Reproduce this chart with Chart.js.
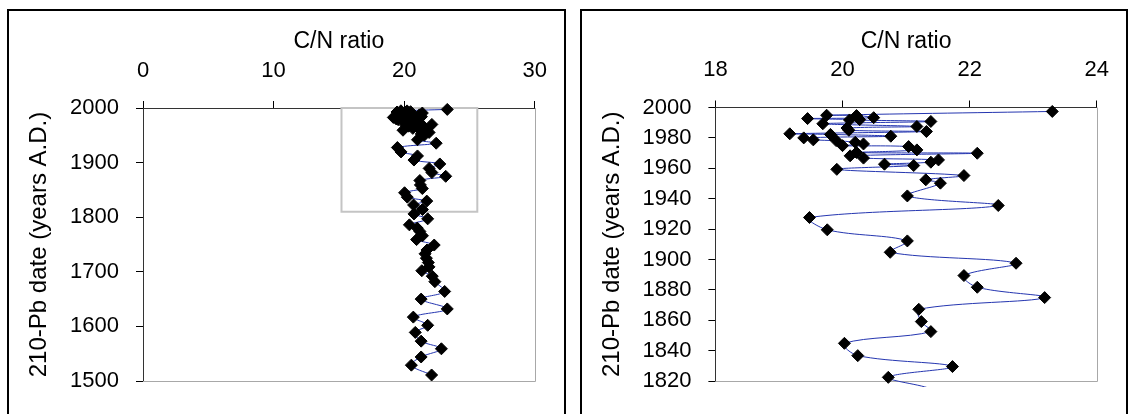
<!DOCTYPE html>
<html>
<head>
<meta charset="utf-8">
<script src="https://cdn.jsdelivr.net/npm/chart.js@4"></script>
<style>
  html, body { margin: 0; padding: 0; background: #fff; }
  body { width: 1133px; height: 414px; position: relative; overflow: hidden; }
  .panel { position: absolute; top: 9px; height: 403px; border: 2px solid #000; border-bottom: none; }
  #leftPanel { left: 7px; width: 555px; }
  #rightPanel { left: 580px; width: 544px; }
  .panel canvas { display: block; }
</style>
</head>
<body>
<div class="panel" id="leftPanel"><canvas id="fullCore"></canvas></div>
<div class="panel" id="rightPanel"><canvas id="topCore"></canvas></div>
<script>
// 210-Pb dates (years A.D.) and C/N ratio, top of core first
const dates = [1997.4, 1994.9, 1994.7, 1993.3, 1992.7, 1992.0, 1991.8, 1990.8, 1989.3, 1987.5,
  1986.5, 1985.0, 1984.2, 1982.7, 1982.3, 1981.1, 1980.0, 1978.7, 1978.2, 1977.1,
  1976.0, 1974.9, 1974.3, 1972.1, 1970.4, 1969.9, 1968.2, 1966.7, 1965.5, 1964.0,
  1962.7, 1961.8, 1959.3, 1955.2, 1952.4, 1950.2, 1941.8, 1935.5, 1927.6, 1919.5,
  1912.2, 1904.7, 1897.5, 1889.4, 1881.7, 1874.9, 1867.2, 1859.1, 1852.5, 1844.8,
  1836.7, 1829.5, 1822.4, 1814, 1806, 1797, 1786, 1780, 1774, 1766,
  1759, 1749, 1740, 1733, 1725, 1717, 1709, 1702, 1692, 1682,
  1664, 1650, 1632, 1617, 1602, 1589, 1573, 1559, 1544, 1529, 1511];
const cnRatio = [23.30, 19.75, 20.22, 20.49, 19.45, 20.27, 20.11, 21.39, 19.69, 21.17,
  20.07, 20.10, 21.32, 19.17, 19.81, 20.76, 19.39, 19.54, 19.90, 20.20,
  20.33, 20.00, 21.04, 21.17, 20.22, 22.12, 20.12, 20.33, 21.51, 21.39,
  20.66, 21.12, 19.91, 21.91, 21.31, 21.54, 21.02, 22.45, 19.48, 19.76,
  21.02, 20.75, 22.73, 21.91, 22.12, 23.18, 21.20, 21.24, 21.39, 20.03,
  20.24, 21.73, 20.72, 21.40, 20.75, 21.80, 20.40, 21.00, 21.20, 21.40,
  20.95, 22.30, 21.75, 21.60, 21.70, 21.85, 21.90, 21.35, 22.15, 22.35,
  23.10, 21.30, 23.30, 20.70, 21.80, 20.85, 21.30, 22.85, 21.30, 20.55, 22.10];

// axis ranges
const fullX = [0, 30], fullXStep = 10;
const fullY = [1500, 2000], fullYStep = 100;
const zoomX = [18, 24], zoomXStep = 2;
const zoomY = [1820, 2000], zoomYStep = 20;
// grey box on the full core marking the zoomed part
const boxRatio = [15.2, 25.6];
const boxDates = [1810, 2000];

const xTitle = "C/N ratio";
const yTitle = "210-Pb date (years A.D.)";

const points = dates.map((d, i) => ({ x: cnRatio[i], y: d }));

const FONT = "'Liberation Sans', Arial, sans-serif";

// grey right/bottom edges of the plot area, plus optional box
const frameLines = {
    id: "frameLines",
    beforeDatasetsDraw(chart, args, opts) {
        const { ctx, chartArea: a, scales } = chart;
        ctx.save();
        ctx.strokeStyle = "#a8a8a8";
        ctx.lineWidth = 1;
        ctx.beginPath();
        ctx.moveTo(Math.round(a.right) + 0.5, a.top);
        ctx.lineTo(Math.round(a.right) + 0.5, Math.round(a.bottom) + 0.5);
        ctx.lineTo(a.left, Math.round(a.bottom) + 0.5);
        ctx.stroke();
        if (opts.box) {
            const x1 = scales.x.getPixelForValue(opts.box.x[0]);
            const x2 = scales.x.getPixelForValue(opts.box.x[1]);
            const y1 = scales.y.getPixelForValue(opts.box.y[1]);
            const y2 = scales.y.getPixelForValue(opts.box.y[0]);
            ctx.strokeStyle = "#c4c4c4";
            ctx.lineWidth = 2;
            ctx.strokeRect(x1, y1, x2 - x1, y2 - y1);
        }
        ctx.restore();
    }
};

function makeChart(id, xr, xs, yr, ys, padRight, yWidth, xHeight, clip, box) {
    const ctx = document.getElementById(id).getContext("2d");
    return new Chart(ctx, {
        type: "scatter",
        data: {
            datasets: [
                {
                    label: "C/N",
                    data: points,
                    showLine: true,
                    tension: 0.35,
                    borderColor: "#2536b0",
                    borderWidth: 1,
                    pointStyle: "rectRot",
                    pointRadius: 6,
                    pointHoverRadius: 6,
                    pointBackgroundColor: "#000",
                    pointBorderColor: "#000",
                    pointBorderWidth: 1,
                    clip: clip,
                },
            ],
        },
        options: {
            responsive: true,
            maintainAspectRatio: false,
            animation: false,
            layout: { padding: { left: 0, top: 0, right: padRight, bottom: 33 } },
            plugins: {
                legend: { display: false },
                tooltip: { enabled: false },
                frameLines: { box: box },
            },
            scales: {
                x: {
                    type: "linear",
                    position: "top",
                    min: xr[0],
                    max: xr[1],
                    afterFit: (s) => { s.height = xHeight; },
                    ticks: {
                        stepSize: xs,
                        color: "#000",
                        padding: 17,
                        maxRotation: 0,
                        callback: (v) => String(v),
                        font: { family: FONT, size: 22 },
                    },
                    grid: { drawOnChartArea: false, drawTicks: true, tickLength: 7, color: "#000" },
                    border: { display: true, color: "#333", width: 1 },
                    title: {
                        display: true,
                        text: xTitle,
                        color: "#000",
                        padding: { top: 17, bottom: 0 },
                        font: { family: FONT, size: 23 },
                    },
                },
                y: {
                    type: "linear",
                    position: "left",
                    min: yr[0],
                    max: yr[1],
                    afterFit: (s) => { s.width = yWidth; },
                    ticks: {
                        stepSize: ys,
                        color: "#000",
                        padding: 17,
                        callback: (v) => String(v),
                        font: { family: FONT, size: 22 },
                    },
                    grid: { drawOnChartArea: false, drawTicks: true, tickLength: 7, color: "#000" },
                    border: { display: true, color: "#333", width: 1 },
                    title: {
                        display: true,
                        text: yTitle,
                        color: "#000",
                        padding: { top: 16, bottom: 0 },
                        font: { family: FONT, size: 24 },
                    },
                },
            },
        },
        plugins: [frameLines],
    });
}

makeChart("fullCore", fullX, fullXStep, fullY, fullYStep, 29, 134, 97, false,
    { x: boxRatio, y: boxDates });
makeChart("topCore", zoomX, zoomXStep, zoomY, zoomYStep, 15.7, 133.4, 96.5,
    { left: 10, top: 10, right: 10, bottom: 6 }, null);
</script>
</body>
</html>
